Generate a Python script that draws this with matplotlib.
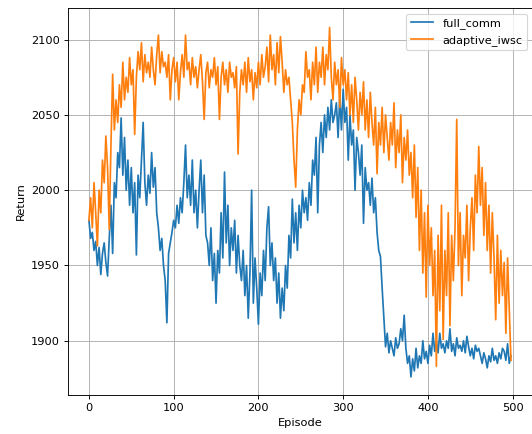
import matplotlib
matplotlib.use("Agg")
import matplotlib.pyplot as plt
import numpy as np

# Episodes sampled every 2 steps
episodes = list(range(0, 500, 2))

full_comm = [
    1980, 1968, 1972, 1960, 1966,
    1950, 1962, 1944, 1958, 1965,
    1952, 1943, 1968, 1990, 1958,
    2005, 1995, 2025, 2015, 2048,
    2010, 2035, 2000, 2020, 1990,
    2015, 1985, 2005, 1957, 2010,
    1995, 2020, 2045, 2005, 1990,
    2010, 1998, 2025, 2002, 2015,
    1985, 1975, 1960, 1968, 1950,
    1940, 1912, 1958, 1965, 1972,
    1980, 1975, 1990, 1978, 1995,
    1985, 2005, 2030, 1995, 2010,
    1990, 2020, 1985, 2000, 1975,
    2000, 2020, 1985, 2010, 1970,
    1965, 1950, 1975, 1940, 1958,
    1925, 1960, 1945, 1985, 1955,
    2012, 1965, 1990, 1950, 1975,
    1960, 1980, 1945, 1970, 1950,
    1940, 1960, 1930, 1950, 1915,
    1945, 2000, 1925, 1955, 1935,
    1911, 1945, 1930, 1960, 1940,
    1975, 1989, 1950, 1965, 1940,
    1955, 1925, 1945, 1915, 1935,
    1920, 1950, 1935, 1970, 1955,
    1994, 1965, 1985, 1960, 1990,
    1975, 2000, 1985, 1995, 1980,
    2005, 1990, 2020, 2010, 2035,
    1985, 2030, 2045, 2025, 2050,
    2035, 2055, 2040, 2060, 2045,
    2050, 2058, 2035, 2062, 2040,
    2067, 2045, 2055, 2020, 2050,
    2030, 2040, 2000, 2035, 2025,
    2010, 2030, 1978, 2015, 2000,
    2005, 1990, 2008, 1985, 1995,
    1972, 1960, 1956, 1935, 1916,
    1896, 1905, 1892, 1900, 1895,
    1890, 1902, 1895, 1898, 1908,
    1900, 1917, 1895, 1885, 1890,
    1876, 1888, 1880, 1895, 1882,
    1890, 1885, 1900, 1888, 1893,
    1885, 1897, 1890, 1905, 1893,
    1900, 1892, 1905, 1895, 1898,
    1892, 1900, 1895, 1908, 1893,
    1898, 1890, 1902, 1895, 1897,
    1893, 1900, 1892, 1903, 1896,
    1890, 1895, 1888, 1897, 1893,
    1895, 1890, 1885, 1892, 1888,
    1882, 1890, 1886, 1895, 1887,
    1890, 1885, 1892, 1888, 1895,
    1893, 1887, 1898, 1885, 1890,
]

adaptive_iwsc = [
    1980, 1995, 1975, 2005, 1985,
    1963, 2000, 1985, 2020, 2005,
    2036, 2015, 1974, 2030, 2077,
    2040, 2060, 2045, 2070, 2055,
    2085, 2060, 2075, 2065, 2088,
    2070, 2080, 2037, 2075, 2092,
    2080, 2098, 2072, 2090, 2078,
    2085, 2075, 2095, 2080, 2070,
    2090, 2103, 2078, 2092, 2082,
    2085, 2075, 2090, 2060, 2080,
    2088, 2072, 2085, 2060, 2078,
    2090, 2075, 2103, 2080, 2085,
    2070, 2088, 2075, 2082, 2068,
    2080, 2090, 2072, 2047, 2078,
    2085, 2068, 2080, 2075, 2088,
    2070, 2082, 2047, 2075, 2085,
    2070, 2080, 2065, 2085, 2075,
    2078, 2068, 2082, 2024, 2065,
    2080, 2070, 2085, 2065, 2088,
    2072, 2080, 2060, 2078, 2068,
    2085, 2070, 2090, 2075, 2082,
    2095, 2072, 2103, 2080, 2090,
    2070, 2098, 2078, 2102, 2085,
    2065, 2080, 2070, 2075, 2060,
    2045, 2020, 2002, 2040, 2060,
    2050, 2070, 2065, 2092, 2075,
    2080, 2060, 2085, 2070, 2095,
    2065, 2085, 2075, 2095, 2070,
    2090, 2080, 2108, 2075, 2060,
    2085, 2070, 2080, 2055, 2088,
    2070, 2080, 2060, 2078, 2050,
    2070, 2045, 2075, 2060, 2040,
    2065, 2050, 2072, 2040, 2060,
    2035, 2065, 2045, 2030, 2055,
    2011, 2045, 2030, 2055, 2025,
    2050, 2035, 2020, 2045, 2030,
    2058, 2015, 2040, 2025, 2050,
    2005, 2035, 2020, 2040, 2010,
    2025, 1995, 2030, 1982, 2015,
    1960, 2000, 1945, 1985, 1929,
    1990, 1950, 1975, 1930, 1960,
    1883, 1970, 1920, 1990, 1901,
    1960, 1930, 1985, 1910, 1970,
    1940, 1975, 2047, 1950, 1985,
    1930, 1970, 1955, 1990, 1940,
    1975, 1995, 1960, 2010, 1985,
    2029, 1990, 2015, 1970, 2005,
    1960, 1990, 1945, 1985, 1955,
    1914, 1970, 1925, 1960, 1930,
    1952, 1905, 1955, 1920, 1887,
]

series_labels = ["full_comm", "adaptive_iwsc"]

DPI = 82
fig = plt.figure(figsize=(532 / DPI, 434 / DPI), dpi=DPI)
ax = fig.add_axes([0.1274, 0.0899, 0.8744, 0.8917])

ax.plot(episodes, full_comm, color="#1f77b4", label=series_labels[0])
ax.plot(episodes, adaptive_iwsc, color="#ff7f0e", label=series_labels[1])

ax.set_xlim(-24.95, 523.95)
ax.set_ylim(1864, 2121)
ax.set_xticks([0, 100, 200, 300, 400, 500])
ax.set_yticks([1900, 1950, 2000, 2050, 2100])
ax.set_xlabel("Episode")
ax.set_ylabel("Return")
ax.grid(True)
ax.legend(loc="upper right")

fig.savefig("out.png", dpi=DPI)
